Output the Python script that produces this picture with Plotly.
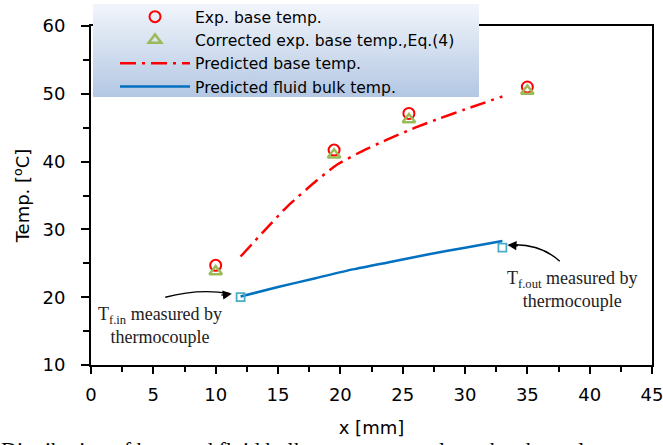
import base64
import plotly.graph_objects as go

# ---------------- data ----------------
x_exp = [10, 19.5, 25.5, 35]
t_exp = [24.7, 41.7, 47.1, 51.0]
t_corr = [23.8, 41.0, 46.2, 50.4]

x_pred_base = [12, 13.8, 15.7, 18.1, 19.7, 21.6, 23.7, 26, 28, 30, 33]
t_pred_base = [26.0, 29.6, 33.3, 37.2, 39.5, 41.4, 43.2, 45.0, 46.4, 47.7, 49.6]

x_pred_fluid = [12, 15, 18, 21, 24, 27, 30, 33]
t_pred_fluid = [20.1, 21.5, 22.8, 24.1, 25.2, 26.3, 27.3, 28.3]

x_tc = [12, 33]
t_tc = [20.0, 27.3]

legend_names = ["Exp. base temp.", "Corrected exp. base temp.,Eq.(4)",
                "Predicted base temp.", "Predicted fluid bulk temp."]

SANS = "'DejaVu Sans', sans-serif"
SERIF = "'Liberation Serif', 'Times New Roman', serif"

W, H = 663, 445
ML, MR, MT, MB = 91, 11, 26, 80
PW, PH = W - ML - MR, H - MT - MB


def px2paper_x(px):
    return (px - ML) / PW


def px2paper_y(py):
    return (H - MB - py) / PH


fig = go.Figure()

fig.add_trace(go.Scatter(
    x=x_exp, y=t_exp, mode="markers", name=legend_names[0],
    marker=dict(symbol="circle-open", size=11, color="#ff0000", line=dict(width=2, color="#ff0000")),
))
fig.add_trace(go.Scatter(
    x=x_exp, y=t_corr, mode="markers", name=legend_names[1],
    marker=dict(symbol="triangle-up-open", size=11, color="#9bbb59", line=dict(width=2.5, color="#9bbb59")),
))
fig.add_trace(go.Scatter(
    x=x_pred_base, y=t_pred_base, mode="lines", name=legend_names[2],
    line=dict(color="#ff0000", width=2.5, dash="16px,6px,3px,6px", shape="spline", smoothing=0.6),
))
fig.add_trace(go.Scatter(
    x=x_pred_fluid, y=t_pred_fluid, mode="lines", name=legend_names[3],
    line=dict(color="#0070c0", width=2.5, shape="spline", smoothing=0.6),
))
fig.add_trace(go.Scatter(
    x=x_tc, y=t_tc, mode="markers", showlegend=False,
    marker=dict(symbol="square-open", size=8, color="#4bacc6", line=dict(width=1.8, color="#4bacc6")),
))

# curved arrows (decorations)
arrow1 = dict(x0=5.96, y0=20.0, cx=8.6, cy=21.3, x1=11.1, y1=20.55)
arrow2 = dict(x0=37.6, y0=25.3, cx=36.0, cy=28.0, x1=33.55, y1=27.7)
for a in (arrow1, arrow2):
    fig.add_shape(type="path", xref="x", yref="y",
                  path=f"M {a['x0']},{a['y0']} Q {a['cx']},{a['cy']} {a['x1']},{a['y1']}",
                  line=dict(color="black", width=1.4))
fig.add_annotation(x=11.3, y=20.5, ax=-12, ay=1.5, xref="x", yref="y", axref="pixel", ayref="pixel",
                   showarrow=True, arrowhead=2, arrowsize=1.3, arrowwidth=1.4, arrowcolor="black", text="")
fig.add_annotation(x=33.4, y=27.7, ax=12, ay=0.8, xref="x", yref="y", axref="pixel", ayref="pixel",
                   showarrow=True, arrowhead=2, arrowsize=1.3, arrowwidth=1.4, arrowcolor="black", text="")

fig.add_annotation(x=px2paper_x(160), y=px2paper_y(325), xref="paper", yref="paper",
                   xanchor="center", yanchor="middle",
                   text="T<sub>f.in</sub> measured by<br>thermocouple", showarrow=False,
                   font=dict(family=SERIF, size=18, color="#222"), align="center")
fig.add_annotation(x=px2paper_x(572), y=px2paper_y(289), xref="paper", yref="paper",
                   xanchor="center", yanchor="middle",
                   text="T<sub>f.out</sub> measured by<br>thermocouple", showarrow=False,
                   font=dict(family=SERIF, size=18, color="#222"), align="center")

# cropped caption at the bottom
fig.add_annotation(x=px2paper_x(-1), y=px2paper_y(449), xref="paper", yref="paper",
                   xanchor="left", yanchor="middle",
                   text="Distribution of base and fluid bulk temperatures along the channel",
                   showarrow=False, font=dict(family=SERIF, size=22, color="black"))

# gradient legend box
svg = ('<svg xmlns="http://www.w3.org/2000/svg" width="100" height="100" preserveAspectRatio="none">'
       '<defs><linearGradient id="g" x1="0" y1="0" x2="0" y2="1">'
       '<stop offset="0" stop-color="#f2f5fb"/><stop offset="1" stop-color="#b3c7e3"/>'
       '</linearGradient></defs><rect width="100" height="100" fill="url(#g)"/></svg>')
src = "data:image/svg+xml;base64," + base64.b64encode(svg.encode()).decode()
fig.add_layout_image(source=src, xref="paper", yref="paper",
                     x=px2paper_x(93), y=px2paper_y(4),
                     sizex=(479 - 93) / PW, sizey=(97 - 4) / PH,
                     sizing="stretch", xanchor="left", yanchor="top", layer="above")

fig.update_layout(
    width=W, height=H,
    margin=dict(l=ML, r=MR, t=MT, b=MB, pad=0, autoexpand=False),
    paper_bgcolor="white", plot_bgcolor="white",
    font=dict(family=SANS, color="black"),
    legend=dict(x=px2paper_x(115), y=px2paper_y(0), xanchor="left", yanchor="top",
                bgcolor="rgba(0,0,0,0)", font=dict(family=SANS, size=15.6, color="black"),
                tracegroupgap=0, itemwidth=70),
    showlegend=True,
)
fig.update_xaxes(
    range=[0, 45], dtick=5, tick0=0, showgrid=False, zeroline=False, automargin=False,
    showline=True, linecolor="black", linewidth=2, mirror=True,
    ticks="outside", ticklen=7, tickwidth=2, tickcolor="black",
    minor=dict(dtick=2.5, ticks="outside", ticklen=5, tickwidth=2, tickcolor="black"),
    tickfont=dict(family=SANS, size=18), ticklabelstandoff=5, ticklabeloverflow="allow",
    title=dict(text="x [mm]", font=dict(family=SANS, size=18), standoff=18),
)
fig.update_yaxes(
    range=[10, 60], dtick=10, tick0=0, showgrid=False, zeroline=False, automargin=False,
    showline=True, linecolor="black", linewidth=2, mirror=True,
    ticks="outside", ticklen=8, tickwidth=2, tickcolor="black",
    minor=dict(dtick=5, ticks="outside", ticklen=6, tickwidth=2, tickcolor="black"),
    tickfont=dict(family=SANS, size=18), ticklabelstandoff=12, ticklabeloverflow="allow",
    title=dict(text="Temp. [<sup>o</sup>C]", font=dict(family=SANS, size=18), standoff=8),
)

fig.write_html("out.html")
